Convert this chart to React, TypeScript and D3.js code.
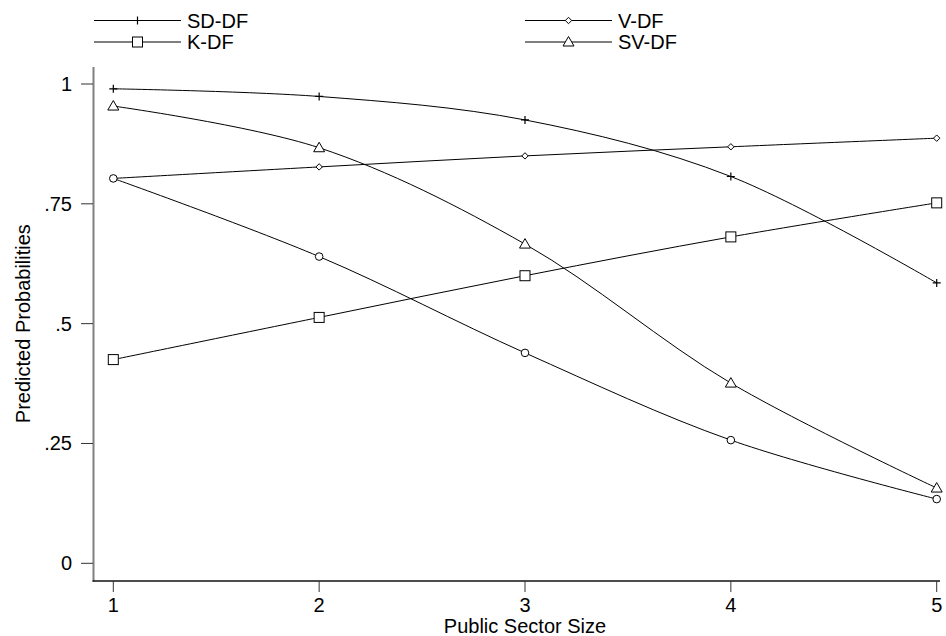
import React from 'react';
import * as d3 from 'd3';

// public sector size on the x axis
const sizes = [1, 2, 3, 4, 5];

// predicted probabilities per model
const sdDF = [0.99, 0.974, 0.925, 0.807, 0.585];
const vDF = [0.803, 0.827, 0.85, 0.869, 0.887];
const kDF = [0.425, 0.513, 0.6, 0.681, 0.752];
const svDF = [0.954, 0.867, 0.666, 0.376, 0.157];
// fifth series (circles), its legend entry is cut off in the source
const circleSeries = [0.803, 0.64, 0.439, 0.257, 0.134];

const yTicks = [0, 0.25, 0.5, 0.75, 1];
const yTickLabels = ['0', '.25', '.5', '.75', '1'];

const series = [
  { name: 'SD-DF', values: sdDF, marker: 'plus' },
  { name: 'V-DF', values: vDF, marker: 'diamond' },
  { name: 'K-DF', values: kDF, marker: 'square' },
  { name: 'SV-DF', values: svDF, marker: 'triangle' },
  { name: '', values: circleSeries, marker: 'circle' },
];

const legendItems = [
  { name: 'SD-DF', marker: 'plus', col: 0, row: 0 },
  { name: 'V-DF', marker: 'diamond', col: 1, row: 0 },
  { name: 'K-DF', marker: 'square', col: 0, row: 1 },
  { name: 'SV-DF', marker: 'triangle', col: 1, row: 1 },
];

const W = 946;
const H = 636;
const font = '"Liberation Sans", Arial, Helvetica, sans-serif';

const x = d3.scaleLinear().domain([1, 5]).range([113.3, 936.7]);
const y = d3.scaleLinear().domain([0, 1]).range([563.3, 84]);

const Marker = ({ type, cx, cy }: { type: string; cx: number; cy: number }) => {
  const st = { fill: 'white', stroke: '#000', strokeWidth: 1 };
  if (type === 'plus') {
    return (
      <path d={`M${cx - 4},${cy}H${cx + 4}M${cx},${cy - 4}V${cy + 4}`} stroke="#000" strokeWidth={1.2} />
    );
  }
  if (type === 'diamond') {
    return <path d={`M${cx - 3.2},${cy}L${cx},${cy - 3.2}L${cx + 3.2},${cy}L${cx},${cy + 3.2}Z`} {...st} />;
  }
  if (type === 'square') {
    return <rect x={cx - 5} y={cy - 5} width={10} height={10} {...st} />;
  }
  if (type === 'triangle') {
    return <path d={`M${cx},${cy - 5.5}L${cx + 5.5},${cy + 4}L${cx - 5.5},${cy + 4}Z`} {...st} />;
  }
  return <circle cx={cx} cy={cy} r={3.8} {...st} />;
};

export default function App() {
  const line = d3
    .line<number>()
    .x((_, i) => x(sizes[i]))
    .y((d) => y(d))
    .curve(d3.curveCatmullRom.alpha(0.5));

  return (
    <svg width={W} height={H} style={{ position: 'absolute', left: 0, top: 0, background: 'white' }}>
      <rect width={W} height={H} fill="white" />

      {/* legend */}
      {legendItems.map((l) => {
        const x0 = l.col === 0 ? 94 : 525;
        const ly = l.row === 0 ? 20.5 : 42;
        return (
          <g key={l.name}>
            <line x1={x0} x2={x0 + 87} y1={ly} y2={ly} stroke="#000" strokeWidth={1} />
            <Marker type={l.marker} cx={x0 + 43.5} cy={ly} />
            <text x={x0 + 93} y={ly + 7} fontFamily={font} fontSize={20}>
              {l.name}
            </text>
          </g>
        );
      })}

      {/* axes */}
      <line x1={93.5} x2={93.5} y1={67} y2={581.5} stroke="#808080" strokeWidth={2} />
      <line x1={92.5} x2={940} y1={581} y2={581} stroke="#111" strokeWidth={1.5} />

      {yTicks.map((t, i) => (
        <g key={t}>
          <line x1={81} x2={93} y1={y(t)} y2={y(t)} stroke="#333" strokeWidth={1} />
          <text x={72} y={y(t) + 7} textAnchor="end" fontFamily={font} fontSize={20}>
            {yTickLabels[i]}
          </text>
        </g>
      ))}

      {sizes.map((s) => (
        <g key={s}>
          <line x1={x(s)} x2={x(s)} y1={581} y2={592} stroke="#333" strokeWidth={1} />
          <text x={x(s)} y={611.5} textAnchor="middle" fontFamily={font} fontSize={20}>
            {s}
          </text>
        </g>
      ))}

      <text x={525} y={632.5} textAnchor="middle" fontFamily={font} fontSize={20}>
        Public Sector Size
      </text>
      <text
        transform={`translate(30,${(y(0) + y(1)) / 2}) rotate(-90)`}
        textAnchor="middle"
        fontFamily={font}
        fontSize={20}
      >
        Predicted Probabilities
      </text>

      {/* series */}
      {series.map((s, k) => (
        <g key={k}>
          <path d={line(s.values) || ''} fill="none" stroke="#000" strokeWidth={1} />
          {s.values.map((v, i) => (
            <Marker key={i} type={s.marker} cx={x(sizes[i])} cy={y(v)} />
          ))}
        </g>
      ))}
    </svg>
  );
}
